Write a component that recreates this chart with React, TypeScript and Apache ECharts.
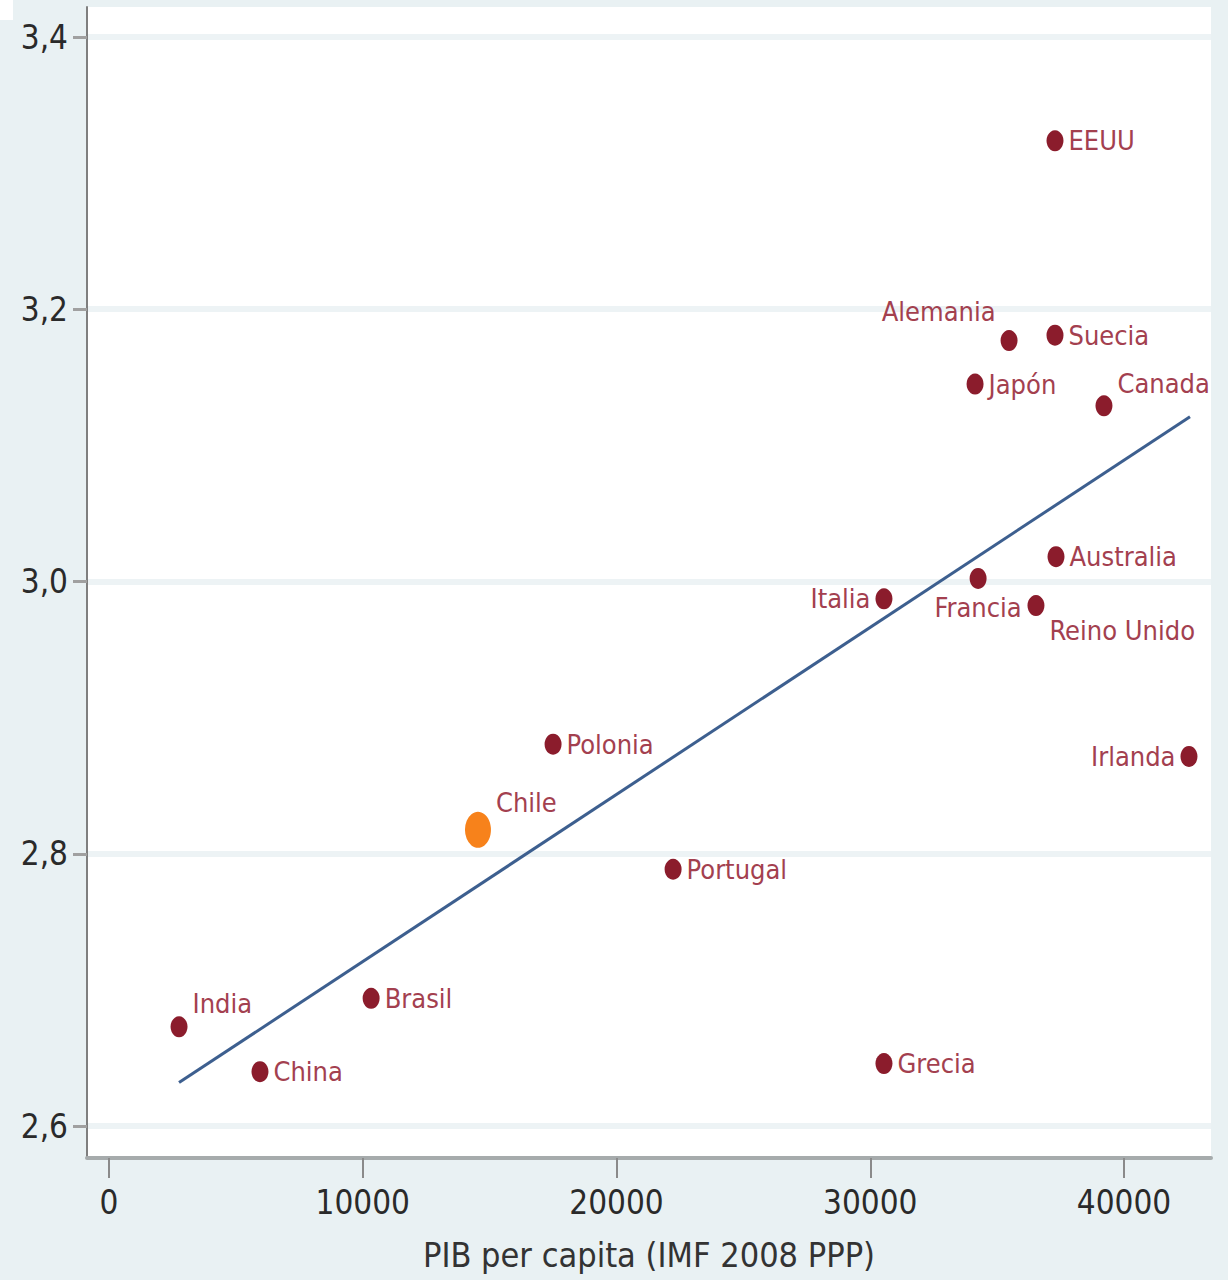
import React, { useEffect, useRef } from 'react';
import * as echarts from 'echarts';

const countries = ['EEUU', 'Alemania', 'Suecia', 'Japón', 'Canada', 'Australia', 'Francia', 'Italia', 'Reino Unido', 'Irlanda', 'Polonia', 'Chile', 'Portugal', 'Brasil', 'India', 'China', 'Grecia'];
const gdpPerCapita = [37280, 35470, 37280, 34130, 39210, 37320, 34250, 30540, 36530, 42560, 17500, 14540, 22230, 10330, 2760, 5950, 30540];
const indexValues = [3.325, 3.178, 3.182, 3.146, 3.130, 3.019, 3.003, 2.988, 2.983, 2.872, 2.881, 2.818, 2.789, 2.694, 2.673, 2.640, 2.646];
const highlighted = 'Chile';
const fitX = [2760, 42600];
const fitY = [2.632, 3.122];
const yTicks = [2.6, 2.8, 3.0, 3.2, 3.4];
const xTicks = [0, 10000, 20000, 30000, 40000];
const xTitle = 'PIB per capita (IMF 2008 PPP)';

const labelPlacement: Record<string, any> = {
  Alemania: { position: 'left', offset: [0, -29] },
  Canada: { position: 'right', offset: [0, -22] },
  India: { position: 'right', offset: [0, -23] },
  Chile: { position: 'right', offset: [0, -27] },
  Italia: { position: 'left' },
  Irlanda: { position: 'left' },
  Francia: { position: 'bottom' },
  'Reino Unido': { position: 'right', offset: [0, 25] },
};

const FONT = '"DejaVu Sans Condensed", "Liberation Sans Narrow", sans-serif';

export default function App() {
  const ref = useRef<HTMLDivElement>(null);
  useEffect(() => {
    if (!ref.current) return;
    const chart = echarts.init(ref.current, null, { renderer: 'svg' });
    const points = countries
      .map((c, i) => ({ c, i }))
      .filter((d) => d.c !== highlighted)
      .map(({ c, i }) => ({
        name: c,
        value: [gdpPerCapita[i], indexValues[i]],
        label: { position: 'right', ...(labelPlacement[c] || {}) },
      }));
    const hi = countries.indexOf(highlighted);
    const hiPoint = [{
      name: highlighted,
      value: [gdpPerCapita[hi], indexValues[hi]],
      label: { position: 'right', ...(labelPlacement[highlighted] || {}) },
    }];
    const labelStyle = {
      show: true,
      formatter: '{b}',
      fontFamily: FONT,
      fontSize: 27,
      color: '#a3404f',
      distance: 5,
    };
    const yFmt = (v: number) => v.toFixed(1).replace('.', ',');
    chart.setOption({
      animation: false,
      backgroundColor: '#e9f1f3',
      graphic: [
        { type: 'rect', shape: { x: 0, y: 0, width: 13, height: 20 }, style: { fill: '#ffffff' }, z: -1 },
      ],
      grid: [
        { left: 87, right: 17, top: 7, bottom: 122, show: true, backgroundColor: '#ffffff', borderWidth: 0 },
        { left: 87, right: 17, top: 37, bottom: 154, show: false },
        { left: 109, right: 104, top: 7, bottom: 122, show: false },
      ],
      xAxis: [
        {
          gridIndex: 0, type: 'value', min: -867, max: 43428,
          axisLine: { show: true, onZero: false, lineStyle: { color: '#a6abac', width: 4 } },
          axisTick: { show: false }, axisLabel: { show: false }, splitLine: { show: false },
          name: xTitle, nameLocation: 'middle', nameGap: 80,
          nameTextStyle: { fontFamily: FONT, fontSize: 34, color: '#333333' },
        },
        { gridIndex: 1, type: 'value', min: 0, max: 1, show: false },
        {
          gridIndex: 2, type: 'value', min: xTicks[0], max: xTicks[xTicks.length - 1], interval: 10000,
          axisLine: { show: false },
          axisTick: { show: true, length: 20, lineStyle: { color: '#8a8a8a', width: 2 } },
          axisLabel: { show: true, margin: 28, fontFamily: FONT, fontSize: 33, color: '#2a2a2a', formatter: (v: number) => String(v) },
          splitLine: { show: false },
        },
      ],
      yAxis: [
        {
          gridIndex: 0, type: 'value', min: 2.5765, max: 3.4235,
          axisLine: { show: true, onZero: false, lineStyle: { color: '#7f7f7f', width: 2 } },
          axisTick: { show: false }, axisLabel: { show: false }, splitLine: { show: false },
        },
        {
          gridIndex: 1, type: 'value', min: yTicks[0], max: yTicks[yTicks.length - 1], interval: 0.2,
          axisLine: { show: false },
          axisTick: { show: true, length: 14, lineStyle: { color: '#a0a0a0', width: 3 } },
          axisLabel: { show: true, margin: 19, fontFamily: FONT, fontSize: 33, color: '#2a2a2a', formatter: yFmt },
          splitLine: { show: true, lineStyle: { color: '#edf3f5', width: 6 } },
        },
        { gridIndex: 2, type: 'value', min: 0, max: 1, show: false },
      ],
      series: [
        {
          type: 'line', xAxisIndex: 0, yAxisIndex: 0,
          data: fitX.map((x, i) => [x, fitY[i]]),
          symbol: 'none', lineStyle: { color: '#3d5f8f', width: 3 }, z: 2,
        },
        {
          type: 'scatter', xAxisIndex: 0, yAxisIndex: 0,
          data: points, symbol: 'circle', symbolSize: [17, 21],
          itemStyle: { color: '#8b1c2c', opacity: 1 }, label: labelStyle, z: 3,
        },
        {
          type: 'scatter', xAxisIndex: 0, yAxisIndex: 0,
          data: hiPoint, symbol: 'circle', symbolSize: [26, 36],
          itemStyle: { color: '#f7821b', opacity: 1 }, label: labelStyle, z: 3,
        },
      ],
    });
    return () => chart.dispose();
  }, []);
  return (
    <div
      ref={ref}
      style={{ position: 'absolute', left: 0, top: 0, width: 1228, height: 1280 }}
    />
  );
}
